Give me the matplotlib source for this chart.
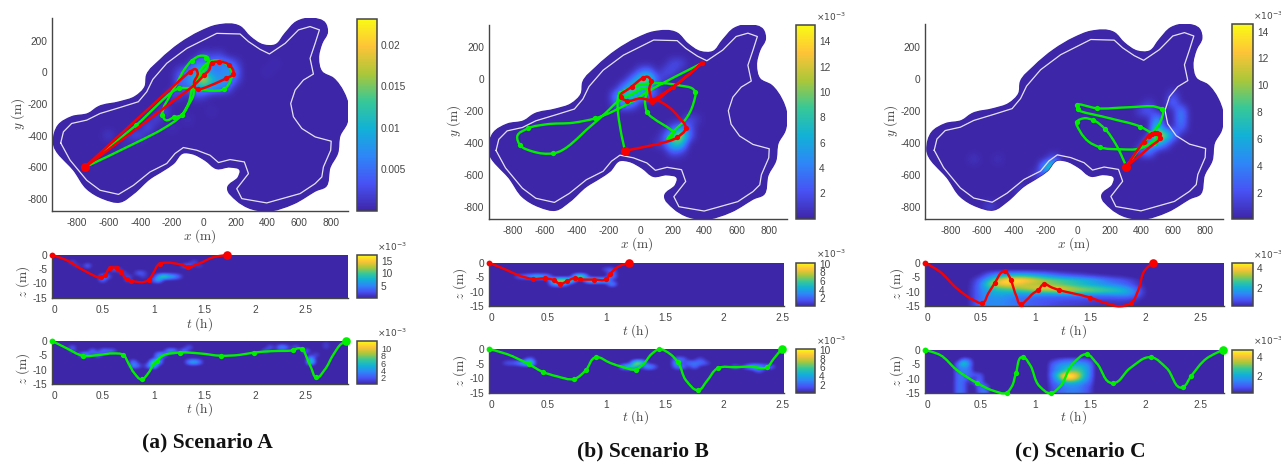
#!/usr/bin/env python3
# -*- coding: utf-8 -*-
import numpy as np
from matplotlib import pyplot as plt
from matplotlib.cm import ScalarMappable
from matplotlib.colors import LinearSegmentedColormap, Normalize
from matplotlib.patches import PathPatch
from matplotlib.path import Path
from matplotlib.transforms import ScaledTranslation

W, H = 1281, 466
tick_sz = 7.3
label_sz = 9.6
grey = "#454545"

plt.rcParams["font.family"] = ["Liberation Sans", "DejaVu Sans"]
plt.rcParams["mathtext.fontset"] = "cm"
plt.rcParams["axes.unicode_minus"] = False

parula = LinearSegmentedColormap.from_list("parula", [
    (0.2422, 0.1504, 0.6603), (0.2810, 0.3228, 0.9579),
    (0.1786, 0.5289, 0.9682), (0.0689, 0.6948, 0.8394),
    (0.2161, 0.7843, 0.5923), (0.6720, 0.7793, 0.2227),
    (0.9970, 0.7659, 0.2199), (0.9769, 0.9839, 0.0805)])

# lake shape, metres
outer_x = [-947, -916, -832, -727, -664, -527, -433, -370, -359, -275, -149, -23, 82, 229, 292, 376, 450, 513, 586, 681,
           765, 779, 744, 723, 744, 817, 880, 912, 901, 859, 842, 796, 765, 712, 565, 397, 282, 208, 151, 219, 229, 166,
           82, 9, -75, -128, -191, -254, -338, -443, -527, -632, -737, -811, -916]
outer_y = [-439, -334, -281, -260, -218, -186, -154, -91, -17, 78, 183, 257, 297, 289, 225, 173, 173, 246, 320, 341,
           310, 257, 183, 88, 4, -38, -123, -218, -323, -397, -513, -598, -724, -745, -830, -876, -855, -809, -731, -661, -619, -598,
           -608, -555, -513, -509, -576, -619, -671, -766, -819, -798, -735, -629, -534]
inner_x = [-901, -884, -832, -737, -653, -527, -412, -359, -321, -233, -107, 82, 229, 282, 355, 414, 513, 597, 670, 729,
           702, 670, 691, 628, 576, 548, 565, 618, 702, 803, 800, 754, 744, 702, 607, 397, 240, 208, 282, 256, 166, 93,
           40, -44, -128, -181, -233, -338, -443, -537, -653, -737, -842, -901]
inner_y = [-446, -376, -323, -302, -260, -222, -186, -123, -45, 57, 151, 246, 242, 194, 145, 116, 183, 268, 289, 268,
           183, 88, -11, -49, -112, -197, -281, -355, -408, -435, -492, -598, -661, -703, -766, -825, -798, -735, -640, -566, -551, -570,
           -524, -492, -475, -513, -576, -629, -714, -771, -745, -682, -555, -446]

# red and green tracks in the x-y plane
a_red_x = [-750, -86, -50, -38, -61, -55, -38, 141, 187, 162, 99, 50, 34, 2, -44, -86, -750]
a_red_y = [-600, 4, 19, -6, -66, -95, -108, -38, -9, 46, 67, 57, 14, -17, -66, -102, -600]
a_red_mx = [-86, -38, 141, 187, 162, 99, 50, 2]
a_red_my = [4, -108, -38, -9, 46, 67, 57, -17]
a_grn_x = [-750, -426, -153, -65, 50, 130, 170, 176, 134, 61, 23, -33, -61, -65, -96, -139, -189, -239, -260,
           -254, -222, -170, -117, -75, -12, 25, 25, -12, -65, -96, -139, -254, -380, -750]
a_grn_y = [-600, -334, -101, -101, -116, -106, -49, 4, 57, 74, 57, -7, -80, -144, -207, -270, -285, -302, -270,
           -228, -165, -70, 25, 74, 105, 95, 46, -7, -80, -196, -270, -355, -422, -600]
a_grn_mx = [-153, 130, -75, 13, -260, -189, -139, -426]
a_grn_my = [-101, -106, 74, 88, -270, -285, -270, -334]

b_red_x = [-97, 230, 282, 236, 174, 91, 66, 205, 382, 205, 80, -3, -86, -124, -55, 18, 43, 66, 55, 74]
b_red_y = [-447, -364, -307, -234, -172, -130, -140, -47, 100, -47, -130, -120, -134, -113, -47, 10, 16, -9, -57, -140]
b_red_mx = [230, 282, 205, 382, -86, -124, -55, 18, 66, 74, 86]
b_red_my = [-364, -307, -47, 100, -134, -113, -47, 10, -9, -140, -130]
b_grn_x = [-97, -128, -45, 59, 226, 340, 330, 278, 215, 174, 205, 39, 28, 39, -65, -128, -221, -315, -544, -669,
           -752, -769, -700, -586, -419, -284, -55, 80, 382]
b_grn_y = [-447, -88, -47, -26, -36, -78, -151, -255, -318, -370, -339, -203, -130, -67, -99, -130, -214, -297, -464, -453,
           -411, -359, -307, -282, -272, -245, -140, -57, 100]
b_grn_mx = [-128, 340, 184, 39, -284, -700, -752, -544]
b_grn_my = [-88, -78, -364, -203, -245, -307, -411, -464]

c_red_x = [305, 414, 445, 487, 512, 515, 456, 305]
c_red_y = [-548, -392, -357, -336, -347, -372, -424, -548]
c_red_mx = [414, 445, 465, 487, 500, 512, 515]
c_red_my = [-392, -357, -345, -336, -340, -347, -372]
c_grn_x = [305, 236, 173, 95, 37, -5, 16, 68, 141, 267, 393, 456, 498, 466, 393, 204, -1, -5, 120, 309, 487, 529, 519, 466, 435, 305]
c_grn_y = [-548, -403, -315, -257, -247, -268, -330, -392, -428, -440, -434, -403, -361, -340, -299, -247, -191, -164, -184, -178, -174, -191, -268, -340, -372, -548]
c_grn_mx = [95, 173, 141, -5, -1, -5, 120, 529, 393, 480]
c_grn_my = [-257, -315, -428, -268, -191, -164, -184, -191, -299, -400]

# depth tracks
a_red_t = [0, .14, .305, .48, .52, .57, .64, .68, .735, .775, .90, .95, .995, 1.06, 1.13, 1.26, 1.34, 1.455, 1.585, 1.72]
a_red_z = [0, -1.8, -5.3, -7.9, -7, -4.5, -4.7, -6.1, -8.6, -9, -9.5, -8.8, -6.4, -3, -2.7, -3.3, -4.1, -2.9, -.8, 0]
a_red_mt = [.48, .52, .57, .64, .68, .735, .775, .95, 1.06, 1.34]
a_red_mz = [-7.9, -7, -4.5, -4.7, -6.1, -8.6, -9, -8.8, -3, -4.1]
a_grn_t = [0, .14, .30, .47, .60, .70, .75, .81, .88, .945, .995, 1.03, 1.09, 1.26, 1.455, 1.66, 1.85, 1.99, 2.18,
           2.375, 2.43, 2.465, 2.505, 2.555, 2.605, 2.685, 2.77, 2.85, 2.90]
a_grn_z = [0, -2.5, -5.1, -4.8, -4.3, -4.8, -7.7, -11.2, -13.3, -11.2, -8.3, -6.8, -5.1, -4, -4.3, -5.1, -4.8, -4, -3.5,
           -3.2, -2.5, -2.8, -5.4, -9.5, -12.6, -10, -4.8, -1, 0]
a_grn_mt = [.30, .70, .88, 1.03, 1.26, 1.66, 1.99, 2.375, 2.465, 2.605]
a_grn_mz = [-5.1, -4.8, -13.3, -6.8, -4, -5.1, -4, -3.2, -2.8, -12.6]

b_red_t = [0, .15, .264, .378, .477, .554, .605, .668, .73, .776, .895, 1.0, 1.03, 1.10, 1.196]
b_red_z = [0, -2.5, -4.5, -5.6, -5.4, -6, -7.3, -6.3, -5.3, -5.7, -5.8, -5.7, -4, -1.4, 0]
b_red_mt = [.378, .477, .554, .605, .668, .73, .776, .895, 1.0, 1.03]
b_red_mz = [-5.6, -5.4, -6, -7.3, -6.3, -5.3, -5.7, -5.8, -5.7, -4]
b_grn_t = [0, .15, .34, .457, .577, .727, .824, .912, 1.03, 1.145, 1.25, 1.315, 1.386, 1.449, 1.543, 1.608, 1.685,
           1.784, 1.855, 1.952, 2.11, 2.23, 2.366, 2.423, 2.494]
b_grn_z = [0, -1.7, -5.2, -7.8, -9.3, -10.2, -7.3, -2.8, -4.7, -6.2, -7, -5.2, -1.7, -.1, -1.7, -4.4, -11,
           -14, -11, -6.5, -6.2, -6, -6.3, -3.5, 0]
b_grn_mt = [.34, .457, .727, .824, .912, 1.25, 1.449, 1.608, 1.784, 1.952, 2.366]
b_grn_mz = [-5.2, -7.8, -10.2, -7.3, -2.8, -7, -.1, -4.4, -14, -6.5, -6.3]

c_red_t = [0, .133, .285, .436, .515, .573, .633, .694, .724, .755, .779, .83, .867, .921, .982, 1.027, 1.079, 1.148,
           1.215, 1.497, 1.648, 1.77, 1.87, 1.936, 1.997, 2.067]
c_red_z = [0, -3.1, -8.8, -12.8, -13.9, -10.5, -6.9, -3.3, -2.9, -4.2, -6.1, -11.7, -14.3, -12.8, -10.5, -9.4, -7.4, -8.5,
           -9.4, -12, -14, -15, -13.9, -9.4, -2.5, 0]
c_red_mt = [.515, .633, .724, .779, .867, 1.027, 1.079, 1.215, 1.497, 1.87]
c_red_mz = [-13.9, -6.9, -2.9, -6.1, -14.3, -9.4, -7.4, -9.4, -12, -13.9]
c_grn_t = [0, .133, .285, .473, .618, .739, .785, .824, .891, .952, 1.042, 1.139, 1.224, 1.345, 1.467, 1.558, 1.703,
           1.861, 2.052, 2.194, 2.339, 2.415, 2.558, 2.703]
c_grn_z = [0, -1.7, -6.9, -11.5, -14.1, -14.8, -12.7, -8.1, -2.5, -5.2, -12.7, -15, -12.7, -4.6, -1.5, -4.6, -11.5,
           -6.3, -2.5, -6.3, -12.9, -9.1, -2.9, 0]
c_grn_mt = [.473, .739, .824, .891, 1.139, 1.467, 1.703, 2.052, 2.339, 2.415]
c_grn_mz = [-11.5, -14.8, -8.1, -2.5, -15, -1.5, -11.5, -2.5, -12.9, -9.1]

# intensity (x, y, value)
a_map = [(-50, 50, .006), (0, 50, .006), (50, 50, .006), (100, 50, .007), (150, 50, .007), (200, 50, .003),
         (-150, 0, .003), (-100, 0, .006), (-50, 0, .008), (0, 0, .010), (50, 0, .006), (100, 0, .005), (150, 0, .008), (200, 0, .006),
         (-150, -50, .005), (-100, -50, .006), (-50, -50, .011), (0, -50, .022), (50, -50, .012), (100, -50, .008), (150, -50, .009), (200, -50, .004),
         (-150, -100, .004), (-100, -100, .004), (-50, -100, .008), (0, -100, .010), (50, -100, .008), (100, -100, .007), (150, -100, .005),
         (-200, -150, .003), (-150, -150, .002), (-50, -150, .003), (0, -150, .002),
         (0, 100, .003), (50, 100, .002), (100, 100, .003),
         (-250, -250, .004), (-300, -300, .003), (-350, -350, .004), (-400, -400, .003), (-450, -400, .003), (-500, -450, .001),
         (-600, -400, .002), (-200, -350, .001), (-100, -300, .001), (50, -250, .0007), (400, 0, .0007), (450, 50, .0007)]
b_map = [(-150, -100, 5), (-100, -150, 6), (-100, -100, 8), (-100, -50, 5), (-50, -100, 8), (-50, -50, 9), (-50, 0, 4),
         (0, -50, 8), (0, 0, 9), (0, 50, 3), (50, 0, 12), (50, -50, 6), (50, 50, 4), (100, 0, 3), (-150, -150, 3), (-50, -150, 4),
         (0, -100, 5), (50, -100, 3), (100, -100, 2), (200, 100, 2), (150, 50, 2), (200, 50, 2), (250, 100, 2), (150, 0, 1),
         (200, -350, 8), (250, -350, 14), (200, -400, 9), (250, -400, 9), (150, -350, 2), (300, -350, 4), (250, -300, 4),
         (200, -300, 2), (300, -300, 3), (350, -250, 1), (300, -250, 2), (250, -450, 2), (150, -400, 2), (200, -450, 3), (100, -400, .8)]
c_map = [(450, -200, 3), (500, -250, 6), (500, -300, 9), (500, -350, 13), (550, -350, 12), (450, -400, 6), (400, -450, 3),
         (450, -450, 5), (600, -100, 2), (600, -150, 4), (650, -200, 5), (650, -250, 5), (650, -300, 4), (600, -350, 5),
         (550, -400, 4), (400, -200, 2), (450, -150, 1), (500, -400, 8), (-150, -550, 11), (-200, -550, 8), (-150, -500, 3),
         (-200, -600, 2), (-250, -600, 2), (-350, -700, 2), (-550, -800, 2), (-650, -475, 1), (-500, -500, .7)]

# intensity (t, z, value)
a_top = [(.2, -2.5, 3), (.25, -3.75, 2), (.35, -3.75, 5), (.5, -7.5, 6), (.5, -8.75, 5), (.55, -7.5, 4), (.6, -5, 4), (.65, -5, 3),
         (.7, -6.25, 3), (.75, -7.5, 3), (.75, -8.75, 3), (.85, -6.25, 4), (.9, -6.25, 3), (.9, -7.5, 2), (1, -8.75, 4), (1.05, -8.75, 9),
         (1.05, -7.5, 8), (1.1, -7.5, 14), (1.15, -7.5, 10), (1.2, -7.5, 8), (1.25, -7.5, 4), (1.3, -3.75, 3), (1.35, -3.75, 5),
         (1.4, -2.5, 3), (1.45, -3.75, 2)]
a_bot = [(.2, -2.5, 3), (.2, -3.75, 2), (.3, -5, 5), (.35, -5, 5), (.4, -3.75, 4), (.45, -5, 5), (.5, -3.75, 4), (.55, -3.75, 3),
         (.6, -3.75, 3), (.8, -7.5, 4), (.8, -8.75, 5), (.85, -8.75, 3), (.95, -8.75, 4), (1, -7.5, 10), (1, -8.75, 9), (1.05, -7.5, 6),
         (1.05, -6.25, 5), (1.05, -5, 5), (1.1, -5, 5), (1.15, -3.75, 5), (1.2, -3.75, 5), (1.3, -3.75, 5), (1.35, -2.5, 3),
         (1.4, -7.5, 7), (1.35, -7.5, 5), (1.45, -7.5, 4), (2.1, -3.75, 3), (2.15, -2.5, 3), (2.25, -2.5, 5), (2.3, -2.5, 4),
         (2.4, -2.5, 3), (2.5, -3.75, 4), (2.55, -6.25, 6), (2.55, -7.5, 10), (2.6, -5, 2), (2.7, -1.25, 1.5), (2.7, -2.5, 1.5)]
b_top = [(.25, -5, 2), (.3, -5, 3), (.35, -5, 4), (.4, -5, 6), (.45, -5, 5), (.5, -5, 4), (.55, -6.25, 7), (.6, -6.25, 9), (.65, -6.25, 9),
         (.7, -6.25, 8), (.75, -5, 9), (.8, -5, 9), (.85, -6.25, 7), (.9, -6.25, 7), (.95, -6.25, 6), (.55, -7.5, 4), (.6, -7.5, 5),
         (.65, -7.5, 3), (1, -6.25, 6), (1.05, -5, 4), (1.05, -7.5, 5), (1.05, -2.5, 2), (1, -2.5, 2), (1.05, -3.75, 3)]
b_bot = [(.15, -5, 2), (.2, -5, 2), (.25, -5, 3), (.3, -5, 6), (.35, -5, 9), (.35, -3.75, 3), (1.15, -6.25, 5), (1.2, -6.25, 7), (1.25, -5, 9),
         (1.3, -5, 9), (1.25, -6.25, 6), (1.35, -6.25, 5), (1.4, -6.25, 3), (1.6, -3.75, 3), (1.65, -3.75, 3), (1.6, -5, 5), (1.6, -6.25, 3),
         (1.7, -5, 3), (1.75, -5, 3), (1.8, -3.75, 2), (1.8, -5, 3), (1.85, -5, 2), (1.65, -6.25, 3), (1.75, -6.25, 3), (2.1, -6.25, 3),
         (2.25, -6.25, 6), (2.3, -6.25, 5), (2.2, -6.25, 3), (2.3, -7.5, 3), (2.35, -6.25, 3), (2.4, -6.25, 3)]

c_top_t = [.5, .6, .7, .8, .9, 1.0, 1.1, 1.2, 1.3, 1.4, 1.5, 1.6, 1.7, 1.8, 1.9]
c_top_z = [-3.75, -5, -6.25, -7.5, -8.75, -10, -11.25, -12.5, -13.75, -15]
c_top_v = [[0, .7, 1.0, 1.2, 1.2, 1.0, .8, .5, .3, .2, .1, 0, 0, 0, 0],
           [.3, 1.5, 2.5, 3, 3, 2.5, 2, 1.5, 1.2, 1, .7, .5, .3, .2, 0],
           [.8, 2.5, 4.3, 4.5, 4.3, 3.8, 3.3, 3, 2.7, 2.3, 2, 1.5, 1, .8, .4],
           [1, 3.5, 4, 4, 3.5, 3.2, 3, 2.8, 2.5, 2.2, 1.8, 1.5, 1.2, 1, .5],
           [1.2, 2.5, 3, 3.2, 3.5, 3.8, 4, 3.8, 3.5, 3, 2.8, 2.5, 2.2, 1.8, 1],
           [1.2, 2, 2.2, 2.3, 2.5, 2.8, 3, 3.2, 3.3, 3.3, 3, 2.8, 2.5, 2.3, 1.5],
           [1.2, 1.8, 1.8, 1.5, 1.4, 1.3, 1.3, 1.3, 1.3, 1.2, 1.2, 1.2, 1.3, 1.5, 1.2],
           [1.2, 1.5, 1.5, 1.2, 1, .9, .8, .8, .7, .7, .6, .6, .6, .7, .5],
           [1.2, 1.5, 1.4, 1.2, 1, .8, .7, .6, .5, .5, .4, .3, .3, .3, .2],
           [1.2, 1.5, 1.4, 1.2, 1, .8, .7, .5, .5, .4, .3, .2, .2, .2, .1]]
c_bot = [(.3, -5, 1.2), (.35, -3.75, 1.5), (.35, -5, 3.2), (.4, -3.75, 1), (.4, -5, 1.5), (.3, -6.25, 1.2), (.35, -6.25, 1.5), (.4, -6.25, 1.2),
         (.3, -7.5, 1.3), (.35, -7.5, 1.3), (.4, -7.5, 1.3), (.45, -8.75, 1), (.5, -8.75, .9), (.3, -8.75, 1.2), (.35, -8.75, 1.3), (.4, -8.75, 1),
         (.3, -10, 1.2), (.35, -10, 1.2), (.4, -10, .9), (.5, -10, 1.2), (.3, -11.25, 1.3), (.35, -11.25, 1), (.45, -11.25, 1.3), (.5, -11.25, 1.2),
         (.3, -12.5, 1.3), (.35, -12.5, 1), (.5, -12.5, 1.3), (.55, -12.5, 1), (.3, -13.75, 1.3), (.35, -13.75, 1), (.5, -13.75, 1.2), (.55, -13.75, 1.3),
         (.3, -15, 1.3), (.35, -15, 1), (.5, -15, 1), (.55, -15, 1.3)]
c_bot_t = [1.15, 1.2, 1.25, 1.3, 1.35, 1.4, 1.45, 1.5]
c_bot_z = [-3.75, -5, -6.25, -7.5, -8.75, -10, -11.25, -12.5, -13.75, -15]
c_bot_v = [[.3, .6, .9, 1, 1, 1, .9, .5],
           [.8, 1.3, 1.5, 1.6, 1.8, 1.7, 1.6, 1.2],
           [1, 1.5, 2, 2.4, 2.6, 2.5, 2, 1.4],
           [1, 1.5, 2.2, 2.8, 3, 2.8, 2.2, 1.4],
           [1.2, 2.5, 4, 4.6, 4.4, 3.6, 2.2, 1.4],
           [1, 2, 3.8, 4.5, 4.2, 3.2, 2, 1.2],
           [.9, 1.4, 2, 2.4, 2.4, 2, 1.5, 1],
           [.7, 1, 1.3, 1.5, 1.5, 1.4, 1, .7],
           [.6, .9, 1.1, 1.3, 1.4, 1.3, 1, .6],
           [.6, .9, 1.1, 1.3, 1.3, 1.2, .9, .6]]

xticks = [-800, -600, -400, -200, 0, 200, 400, 600, 800]
yticks = [200, 0, -200, -400, -600, -800]
tticks = [0, .5, 1, 1.5, 2, 2.5]
tlabels = ["0", "0.5", "1", "1.5", "2", "2.5"]
zticks = [0, -5, -10, -15]

fig = plt.figure(figsize=(W / 100, H / 100), dpi=100)


def px_axes(left, top, right, bottom):
    return fig.add_axes([left / W, 1 - bottom / H, (right - left) / W, (bottom - top) / H])


def px_text(x, y, s, **kw):
    return fig.text(x / W, 1 - y / H, s, ha=kw.pop("ha", "center"), va=kw.pop("va", "center"), color=kw.pop("color", grey), **kw)


def grid_from_spots(spots, dx, dy, x_rng, y_rng):
    xs = np.arange(x_rng[0], x_rng[1] + dx / 2, dx)
    ys = np.arange(y_rng[0], y_rng[1] + dy / 2, dy)
    grid = np.zeros((len(ys), len(xs)))
    for x, y, v in spots:
        grid[int(round((y - y_rng[0]) / dy)), int(round((x - x_rng[0]) / dx))] = v
    ext = (xs[0] - dx / 2, xs[-1] + dx / 2, ys[0] - dy / 2, ys[-1] + dy / 2)
    return grid, ext


def curve_path(x, y, sx=1.0, sy=1.0, closed=False):
    # bezier through the read points; handles are kept short next to short segments
    p = np.column_stack([x, y]).astype(float) * [sx, sy]
    n = len(p)
    if closed:
        p = np.vstack([p[-1], p, p[0], p[1]])
        first, last = 1, n + 1
    else:
        first, last = 0, n - 1
    d = np.diff(p, axis=0)
    seg = np.maximum(np.hypot(d[:, 0], d[:, 1]), 1e-6)
    verts = [p[first]]
    codes = [Path.MOVETO]

    def handle(i, s):
        if i == 0 or i == len(p) - 1:
            return np.zeros(2)
        t = d[i - 1] / seg[i - 1] * seg[i] + d[i] / seg[i] * seg[i - 1]
        norm = np.hypot(t[0], t[1])
        if norm < 1e-6:
            return np.zeros(2)
        return t / norm * min(seg[s], 2 * min(seg[i - 1], seg[i])) / 3

    for i in range(first, last):
        verts += [p[i] + handle(i, i), p[i + 1] - handle(i + 1, i), p[i + 1]]
        codes += [Path.CURVE4] * 3
    verts = np.array(verts) / [sx, sy]
    return Path(verts, codes)


def add_cbar(box, vmin, vmax, ticks, labels, exp_pos=None, lab_sz=tick_sz):
    cax = px_axes(*box)
    cb = fig.colorbar(ScalarMappable(Normalize(vmin, vmax), parula), cax=cax)
    cb.set_ticks(ticks)
    cb.set_ticklabels(labels)
    cb.ax.tick_params(labelsize=lab_sz, length=0, pad=3, labelcolor=grey)
    cb.outline.set_edgecolor(grey)
    cb.outline.set_linewidth(1.1)
    if exp_pos:
        px_text(exp_pos[0], exp_pos[1], r"$\times 10^{-3}$", ha="left", fontsize=6.5, math_fontfamily="dejavusans")


def style_axes(ax):
    for s in ["top", "right"]:
        ax.spines[s].set_visible(False)
    for s in ["left", "bottom"]:
        ax.spines[s].set_color(grey)
        ax.spines[s].set_linewidth(1.0)
    ax.tick_params(axis="both", length=0, labelsize=tick_sz, labelcolor=grey)
    ax.tick_params(axis="x", pad=5)
    ax.tick_params(axis="y", pad=3.5)


def draw_map(box, lims, spots, vmax, grn, red, big):
    ax = px_axes(*box)
    shape = PathPatch(curve_path(outer_x[:-1], outer_y[:-1], closed=True), fc=parula(0.0), ec=parula(0.0), lw=1.0, zorder=1)
    ax.add_patch(shape)
    grid, ext = grid_from_spots(spots, 50, 50, (-1000, 1000), (-900, 400))
    im = ax.imshow(grid, origin="lower", extent=ext, cmap=parula, vmin=0, vmax=vmax, interpolation="bicubic", aspect="auto", zorder=2)
    im.set_clip_path(shape)
    ax.plot(inner_x, inner_y, color="#e6e2f2", lw=0.9, zorder=3)
    ax.add_patch(PathPatch(curve_path(grn[0], grn[1]), fc="none", ec=GRN, lw=1.7, zorder=4))
    ax.plot(grn[2], grn[3], "o", color=GRN, ms=3.8, mew=0, zorder=4)
    ax.add_patch(PathPatch(curve_path(red[0], red[1]), fc="none", ec=RED, lw=1.8, zorder=5))
    ax.plot(red[2], red[3], "o", color=RED, ms=3.8, mew=0, zorder=5)
    ax.plot(big[0], big[1], "o", color=RED, ms=6.5, mew=0, zorder=6)
    ax.set_xlim(lims[0], lims[1])
    ax.set_ylim(lims[2], lims[3])
    ax.set_xticks(xticks)
    ax.set_yticks(yticks)
    style_axes(ax)
    return ax


def draw_strip(box, tmax, grid, ext, vmin, vmax, col, trk, marks):
    ax = px_axes(*box)
    ax.set_facecolor(parula(0.0))
    ax.imshow(grid, origin="lower", extent=ext, cmap=parula, vmin=vmin, vmax=vmax, interpolation="bicubic", aspect="auto", zorder=1)
    ax.add_patch(PathPatch(curve_path(trk[0], trk[1], sx=100, sy=2.9), fc="none", ec=col, lw=1.7, zorder=3, clip_on=False))
    ax.plot(marks[0], marks[1], "o", color=col, ms=3.8, mew=0, zorder=4, clip_on=False)
    ax.plot([0], [0], "o", color=col, ms=4.2, mew=0, zorder=4, clip_on=False)
    ax.plot([trk[0][-1]], [0], "o", color=col, ms=6.2, mew=0, zorder=4, clip_on=False)
    ax.set_xlim(0, tmax)
    ax.set_ylim(-15, 0)
    ax.set_xticks(tticks)
    ax.set_xticklabels(tlabels)
    ax.set_yticks(zticks)
    style_axes(ax)
    # the 0 label sits a little right of its tick in the source
    lab = ax.get_xticklabels()[0]
    lab.set_transform(lab.get_transform() + ScaledTranslation(2.4 / 100, 0, fig.dpi_scale_trans))
    return ax


def strip_grid(spots, dt=.05, t_rng=(0, 3.0)):
    return grid_from_spots(spots, dt, 1.25, t_rng, (-15, 0))


def rows_to_spots(ts, zs, vals):
    return [(t, z, v) for z, row in zip(zs, vals) for t, v in zip(ts, row)]


GRN = "#00f000"
RED = "#f80000"

# ---------- scenario A ----------
draw_map((52.3, 18, 348, 211), (-954, 909, -876, 343), a_map, .0231,
         (a_grn_x, a_grn_y, a_grn_mx, a_grn_my), (a_red_x, a_red_y, a_red_mx, a_red_my), (-750, -600))
add_cbar((356.7, 18.7, 376.7, 211), 0, .0231, [.005, .01, .015, .02], ["0.005", "0.01", "0.015", "0.02"])
px_text(200, 236, r"$x\ (\mathrm{m})$", fontsize=label_sz)
px_text(18, 114, r"$y\ (\mathrm{m})$", fontsize=label_sz, rotation=90)

g, e = strip_grid(a_top)
draw_strip((52.3, 255, 348, 297.7), 2.916, g, e, .2, 17.3, RED, (a_red_t, a_red_z), (a_red_mt, a_red_mz))
add_cbar((356.7, 255, 376.7, 297.7), .2, 17.3, [5, 10, 15], ["5", "10", "15"], (377, 246.5))
px_text(200, 324, r"$t\ (\mathrm{h})$", fontsize=label_sz)
px_text(23, 282, r"$z\ (\mathrm{m})$", fontsize=label_sz, rotation=90)

g, e = strip_grid(a_bot)
draw_strip((52.3, 341, 348, 384.3), 2.916, g, e, .2, 12, GRN, (a_grn_t, a_grn_z), (a_grn_mt, a_grn_mz))
add_cbar((356.7, 341, 376.7, 384.3), .2, 12, [2, 4, 6, 8, 10], ["2", "4", "6", "8", "10"], (377, 332.5), lab_sz=6.6)
px_text(200, 409, r"$t\ (\mathrm{h})$", fontsize=label_sz)
px_text(23, 369, r"$z\ (\mathrm{m})$", fontsize=label_sz, rotation=90)

# ---------- scenario B ----------
draw_map((489, 25, 786.7, 218.7), (-945, 912, -873, 340), b_map, 15.3,
         (b_grn_x, b_grn_y, b_grn_mx, b_grn_my), (b_red_x, b_red_y, b_red_mx, b_red_my), (-97, -447))
add_cbar((795.7, 25, 815, 218.7), 0, 15.3, [2, 4, 6, 8, 10, 12, 14], ["2", "4", "6", "8", "10", "12", "14"], (815.7, 16.5))
px_text(637, 244, r"$x\ (\mathrm{m})$", fontsize=label_sz)
px_text(454, 121, r"$y\ (\mathrm{m})$", fontsize=label_sz, rotation=90)

g, e = strip_grid(b_top)
draw_strip((489, 262.7, 784, 306.3), 2.514, g, e, .2, 10.2, RED, (b_red_t, b_red_z), (b_red_mt, b_red_mz))
add_cbar((795.7, 262.7, 815, 306.3), .2, 10.2, [2, 4, 6, 8, 10], ["2", "4", "6", "8", "10"], (816, 254))
px_text(636, 331, r"$t\ (\mathrm{h})$", fontsize=label_sz)
px_text(460, 284, r"$z\ (\mathrm{m})$", fontsize=label_sz, rotation=90)

g, e = strip_grid(b_bot)
draw_strip((489, 349, 784, 393), 2.514, g, e, .2, 10.2, GRN, (b_grn_t, b_grn_z), (b_grn_mt, b_grn_mz))
add_cbar((795.7, 349, 815, 393), .2, 10.2, [2, 4, 6, 8, 10], ["2", "4", "6", "8", "10"], (816, 340.5))
px_text(636, 417, r"$t\ (\mathrm{h})$", fontsize=label_sz)
px_text(460, 371, r"$z\ (\mathrm{m})$", fontsize=label_sz, rotation=90)

# ---------- scenario C ----------
draw_map((925.3, 24.3, 1223.3, 218.7), (-957, 914, -874, 341), c_map, 14.55,
         (c_grn_x, c_grn_y, c_grn_mx, c_grn_my), (c_red_x, c_red_y, c_red_mx, c_red_my), (305, -548))
add_cbar((1232.3, 24.3, 1252.7, 218.7), .05, 14.55, [2, 4, 6, 8, 10, 12, 14], ["2", "4", "6", "8", "10", "12", "14"], (1252.7, 16))
px_text(1074, 244, r"$x\ (\mathrm{m})$", fontsize=label_sz)
px_text(891, 121, r"$y\ (\mathrm{m})$", fontsize=label_sz, rotation=90)

g, e = grid_from_spots(rows_to_spots(c_top_t, c_top_z, c_top_v), .1, 1.25, (0, 3.0), (-15, 0))
draw_strip((925.3, 262.7, 1224, 306.3), 2.715, g, e, .08, 4.58, RED, (c_red_t, c_red_z), (c_red_mt, c_red_mz))
add_cbar((1232.3, 262.7, 1252.7, 306.3), .08, 4.58, [2, 4], ["2", "4"], (1252.7, 254.5))
px_text(1074, 331, r"$t\ (\mathrm{h})$", fontsize=label_sz)
px_text(897, 284, r"$z\ (\mathrm{m})$", fontsize=label_sz, rotation=90)

g, e = strip_grid(c_bot + rows_to_spots(c_bot_t, c_bot_z, c_bot_v))
draw_strip((925.3, 350, 1224, 393.3), 2.715, g, e, .14, 4.7, GRN, (c_grn_t, c_grn_z), (c_grn_mt, c_grn_mz))
add_cbar((1232.3, 350, 1252.7, 393.3), .14, 4.7, [2, 4], ["2", "4"], (1252.7, 341))
px_text(1074, 417, r"$t\ (\mathrm{h})$", fontsize=label_sz)
px_text(897, 371, r"$z\ (\mathrm{m})$", fontsize=label_sz, rotation=90)

cap = dict(family="Liberation Serif", weight="bold", fontsize=15.5, color="#111111")
px_text(207, 442, "(a) Scenario A", **cap)
px_text(643, 451, "(b) Scenario B", **cap)
px_text(1080, 451, "(c) Scenario C", **cap)

fig.savefig("out.png", dpi=100)
